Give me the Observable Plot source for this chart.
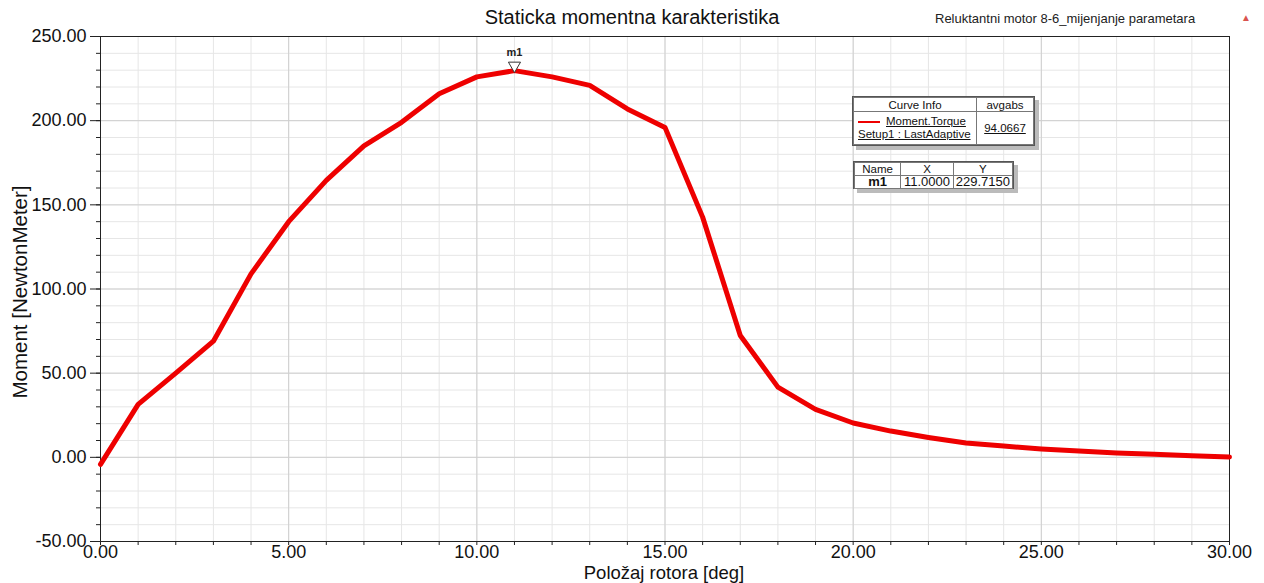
<!DOCTYPE html>
<html>
<head>
<meta charset="utf-8">
<script src="https://cdn.jsdelivr.net/npm/d3@7"></script>
<script src="https://cdn.jsdelivr.net/npm/@observablehq/plot@0.6"></script>
<style>
  body { margin: 0; background: #fff; font-family: "Liberation Sans", Arial, sans-serif; }
  #wrap { position: relative; width: 1264px; height: 583px; overflow: hidden; }
  #title { position: absolute; left: 432px; width: 400px; top: 5px; text-align: center; font-size: 20px; color: #111; line-height: 24px; }
  #proj { position: absolute; left: 935px; top: 11px; font-size: 13px; color: #222; line-height: 16px; }
  #icon { position: absolute; left: 1241px; top: 12px; font-size: 10px; color: #d9534f; }
  #xlab { position: absolute; left: 464px; width: 400px; top: 563px; text-align: center; font-size: 18.5px; color: #111; line-height: 19px; }
  #ylab { position: absolute; left: 20px; top: 292px; width: 300px; margin-left: -150px; margin-top: -11px; text-align: center; font-size: 20.5px; color: #111; line-height: 22px; transform: rotate(-90deg); }
  .box { position: absolute; background: #fff; border: 1px solid #555; box-shadow: 4px 4px 0 #bbb; font-size: 11.5px; color: #111; }
  .box table { border-collapse: collapse; width: 100%; height: 100%; }
  .box td { border: 1px solid #777; text-align: center; padding: 0 2px; line-height: 12px; }
</style>
</head>
<body>
<div id="wrap">
  <div id="chart"></div>
  <div id="title">Staticka momentna karakteristika</div>
  <div id="proj">Reluktantni motor 8-6_mijenjanje parametara</div>
  <div id="icon">&#9650;</div>
  <div id="xlab">Položaj rotora [deg]</div>
  <div id="ylab">Moment [NewtonMeter]</div>
  <div class="box" style="left:852px;top:96px;width:181px;height:48px;">
    <table>
      <tr style="height:14px"><td style="width:118px">Curve Info</td><td>avgabs</td></tr>
      <tr><td style="text-align:left;padding-left:4px;white-space:nowrap;line-height:13px"><span style="display:inline-block;width:22px;border-top:2px solid #e00;vertical-align:middle;margin-right:6px"></span><u>Moment.Torque</u><br><u>Setup1 : LastAdaptive</u></td><td><u>94.0667</u></td></tr>
    </table>
  </div>
  <div class="box" style="left:853px;top:161px;width:159px;height:26px;">
    <table>
      <tr><td style="width:44px">Name</td><td style="width:48px">X</td><td>Y</td></tr>
      <tr style="font-size:13px"><td><b>m1</b></td><td>11.0000</td><td>229.7150</td></tr>
    </table>
  </div>
</div>
<script>
const angle = [0,1,2,3,4,5,6,7,8,9,10,11,12,13,14,15,16,17,18,19,20,21,22,23,24,25,26,27,28,29,30];
const torque = [-4.2,31.5,50,69,109,140,164.5,185,199,216,226,229.715,226,221,207,196,142.7,72.4,41.7,28.5,20.4,15.6,11.8,8.5,6.7,5.0,3.7,2.6,1.8,1.0,0.2];
const xMajor = [0,5,10,15,20,25,30];
const yMajor = [-50,0,50,100,150,200,250];
const xMinor = d3.range(0,31,1);
const yMinor = d3.range(-50,251,10);
const markerName = "m1";
const markerX = 11;
const markerY = 229.715;

const data = angle.map((a,i)=>({x:a, y:torque[i]}));
const font = "Liberation Sans, Arial, sans-serif";

const chart = Plot.plot({
  width: 1264,
  height: 583,
  marginTop: 36,
  marginBottom: 42,
  marginLeft: 100,
  marginRight: 35,
  style: {fontFamily: font, background: "#fff", color: "#111"},
  x: {domain: [0,30]},
  y: {domain: [-50,250]},
  marks: [
    Plot.gridX(xMinor, {stroke: "#e6e6e6", strokeOpacity: 1}),
    Plot.gridY(yMinor, {stroke: "#e6e6e6", strokeOpacity: 1}),
    Plot.gridX(xMajor, {stroke: "#cfcfcf", strokeOpacity: 1}),
    Plot.gridY(yMajor, {stroke: "#cfcfcf", strokeOpacity: 1}),
    Plot.axisY(yMinor, {tickSize: 4, text: null, label: null, stroke: "#222"}),
    Plot.axisY(yMajor, {tickSize: 10, tickPadding: 4, fontSize: 18, tickFormat: d => d.toFixed(2), label: null, stroke: "#222"}),
    Plot.axisX(xMinor, {tickSize: 4, text: null, label: null, stroke: "#222"}),
    Plot.axisX(xMajor, {tickSize: 0, tickPadding: 4, fontSize: 18, tickFormat: d => d.toFixed(2), label: null}),
    Plot.frame({stroke: "#222"}),
    Plot.line(data, {x: "x", y: "y", stroke: "#ee0000", strokeWidth: 5, strokeLinejoin: "round"}),
    Plot.dot([{x: markerX, y: markerY}], {x: "x", y: "y", symbol: "triangle", r: 4.5, rotate: 180, stroke: "#333", fill: "#fff", strokeWidth: 1, dy: -5}),
    Plot.text([{x: markerX, y: markerY, t: markerName}], {x: "x", y: "y", text: "t", dy: -18, fontWeight: "bold", fontSize: 11, fill: "#222"})
  ]
});
document.getElementById("chart").appendChild(chart);
</script>
</body>
</html>
